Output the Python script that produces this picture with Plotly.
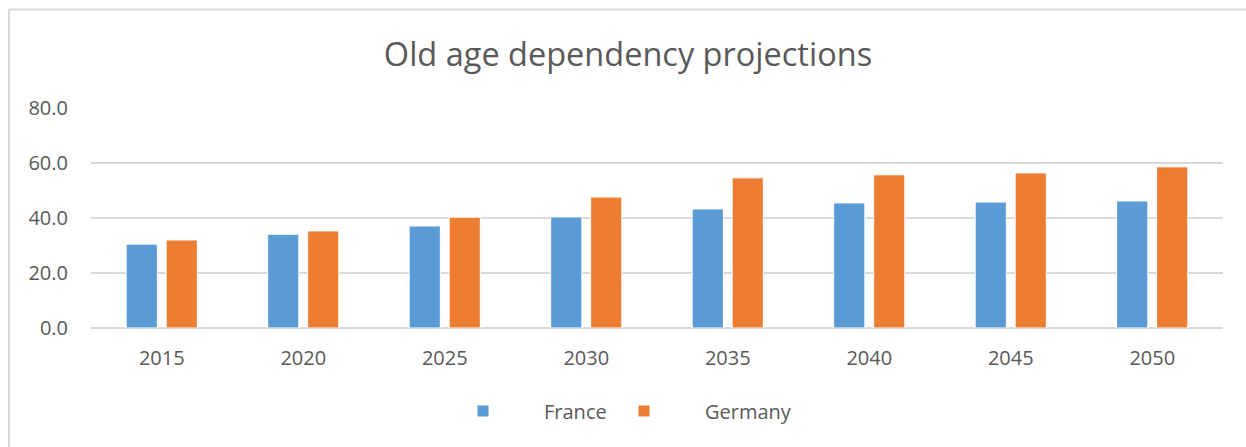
import plotly.graph_objects as go

years = ["2015", "2020", "2025", "2030", "2035", "2040", "2045", "2050"]
france = [30.5, 34.1, 37.1, 40.4, 43.3, 45.5, 45.8, 46.2]
germany = [32.0, 35.3, 40.3, 47.6, 54.6, 55.7, 56.4, 58.6]
y_ticks = [0, 20, 40, 60, 80]
y_tick_text = ["0.0", "20.0", "40.0", "60.0", "80.0"]

FONT = "Open Sans"
GREY = "#595959"

fig = go.Figure()
fig.add_trace(go.Bar(name="France", x=years, y=france, legend="legend",
                     marker=dict(color="#5b9bd5", line=dict(color="#ffffff", width=1))))
fig.add_trace(go.Bar(name="Germany", x=years, y=germany, legend="legend2",
                     marker=dict(color="#ed7d31", line=dict(color="#ffffff", width=1))))

W, H = 1246, 447
L, R, T, B = 91, 23, 108, 119
pw, ph = W - L - R, H - T - B

leg_common = dict(orientation="h", xanchor="left",
                  y=-(411 - (T + ph)) / ph, yanchor="middle",
                  font=dict(family=FONT, size=20, color=GREY),
                  itemwidth=112, bgcolor="rgba(0,0,0,0)")

fig.update_layout(
    width=W, height=H,
    margin=dict(l=L, r=R, t=T, b=B, pad=0),
    paper_bgcolor="white", plot_bgcolor="white",
    font=dict(family=FONT, size=20, color=GREY),
    title=dict(text="Old age dependency projections", x=(628 - L) / pw, xref="paper",
               xanchor="center", y=1 - 55 / H, yanchor="middle",
               font=dict(family=FONT, size=32.5, color=GREY)),
    barmode="group", bargap=0.435, bargroupgap=0.22,
    showlegend=True,
    legend=dict(x=(422 - L) / pw, **leg_common),
    legend2=dict(x=(583 - L) / pw, **leg_common),
    xaxis=dict(showgrid=False, showline=False, ticks="", ticklabelstandoff=16,
               tickfont=dict(family=FONT, size=20, color=GREY)),
    yaxis=dict(range=[0, 80], tickvals=y_ticks, ticktext=y_tick_text,
               showgrid=True, gridcolor="#d9d9d9", gridwidth=1.5,
               zeroline=True, zerolinecolor="#d9d9d9", zerolinewidth=1.5,
               showline=False, ticks="", ticklabelstandoff=22,
               tickfont=dict(family=FONT, size=20, color=GREY)),
)

# chart area border (left and top edges visible)
x_left = (9 - L) / pw
y_top = (T + ph - 9.5) / ph
fig.add_shape(type="line", xref="paper", yref="paper", x0=x_left, x1=x_left,
              y0=y_top, y1=-2, line=dict(color="#d9d9d9", width=2))
fig.add_shape(type="line", xref="paper", yref="paper", x0=x_left, x1=2,
              y0=y_top, y1=y_top, line=dict(color="#d9d9d9", width=2))

fig.write_html("out.html", config={"displayModeBar": False},
               post_script="document.body.style.margin='0';document.body.style.padding='0';")
